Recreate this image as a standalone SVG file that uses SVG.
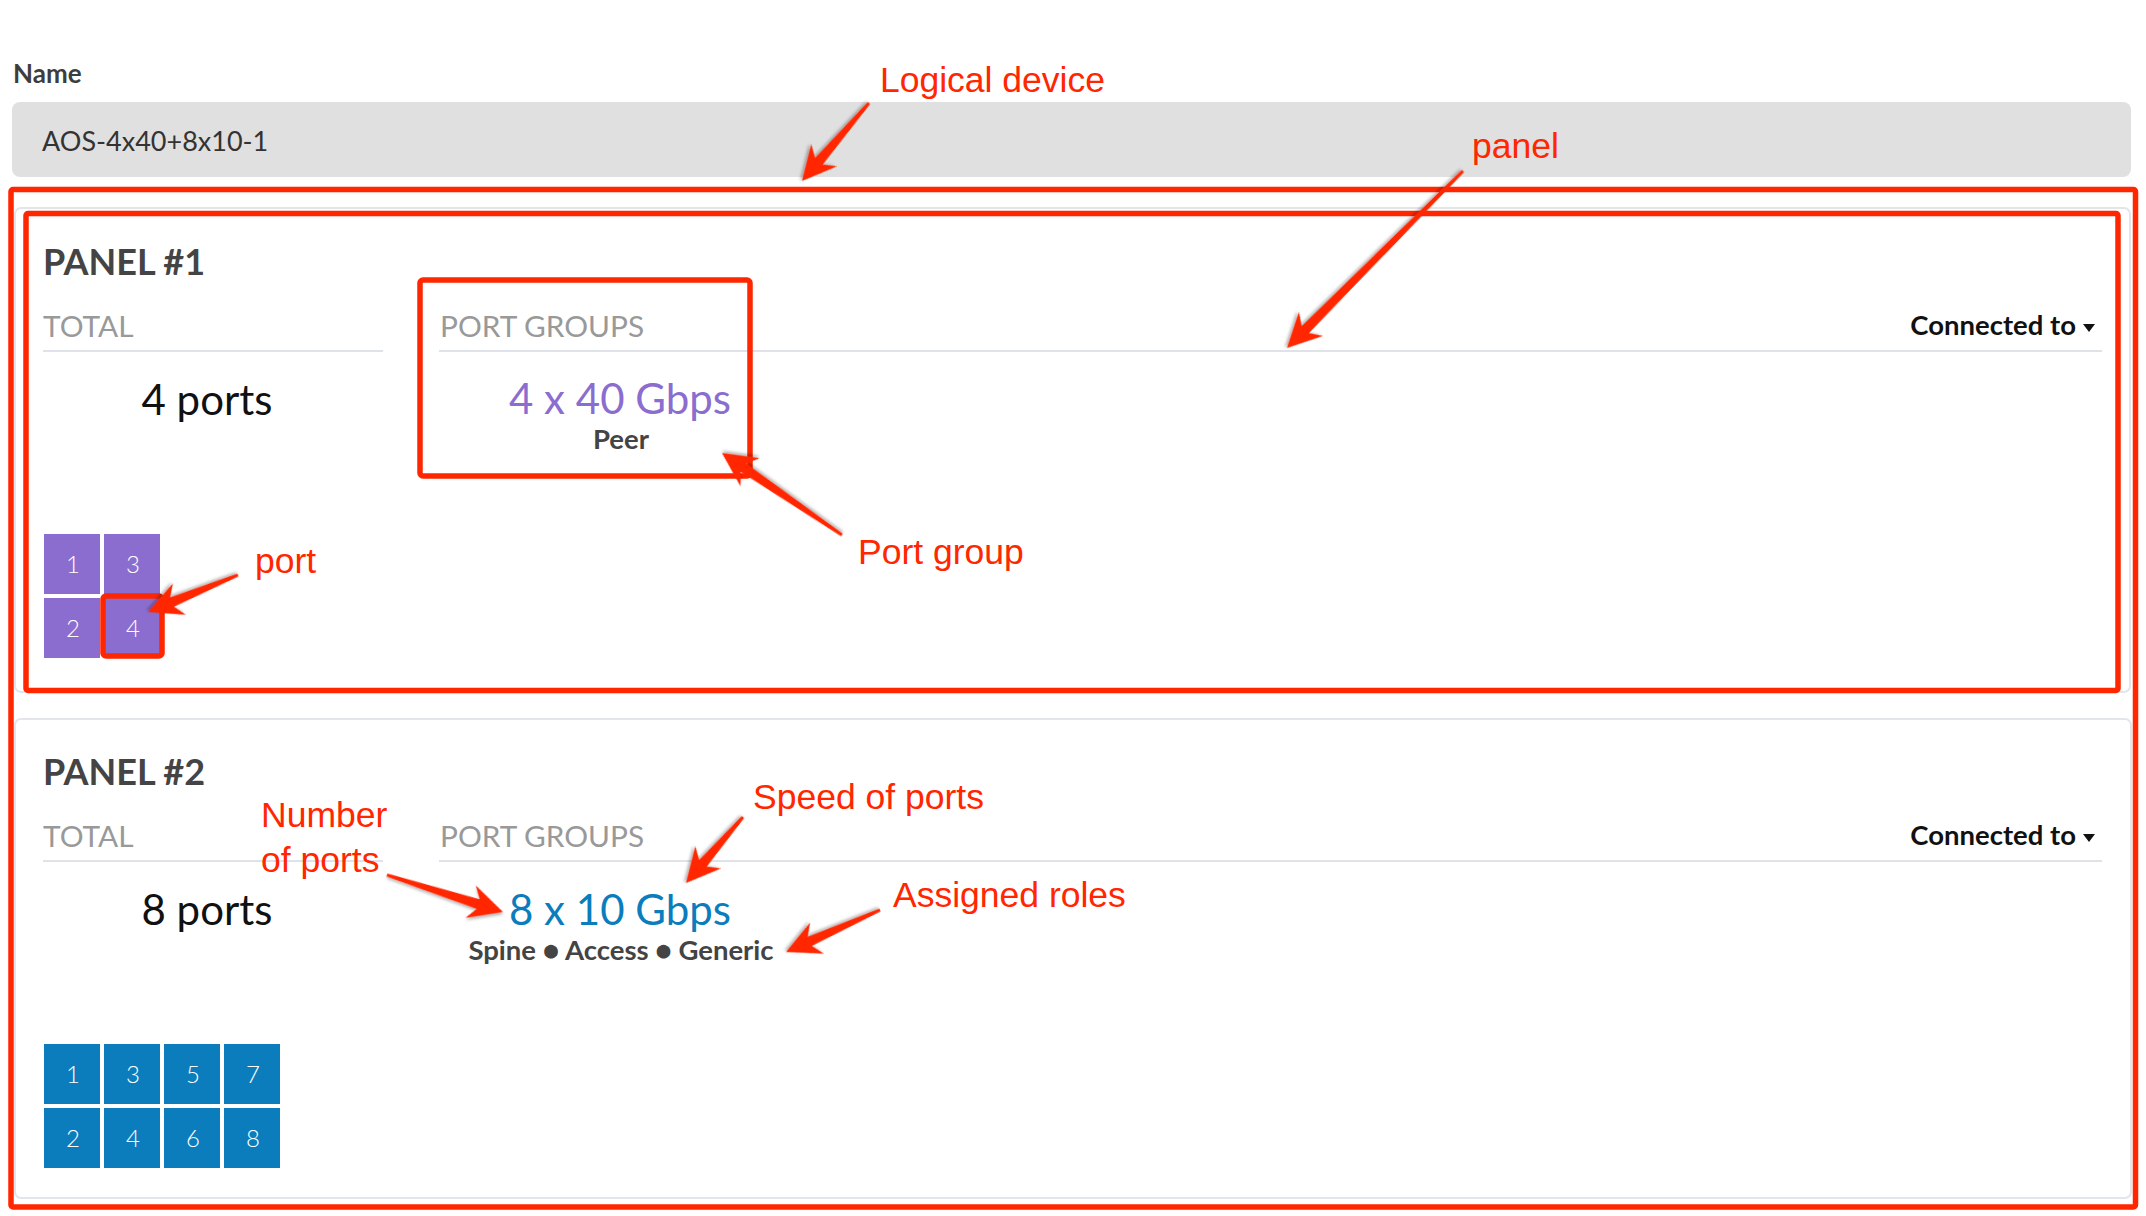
<svg xmlns="http://www.w3.org/2000/svg" width="2146" height="1216" viewBox="0 0 2146 1216">
<defs>
<style>
.ui{font-family:Lato,"Open Sans","Liberation Sans",sans-serif}
.lbl{font-family:Lato,"Liberation Sans",sans-serif;font-weight:700;fill:#3d3d3d}
.title{font-family:Lato,"Liberation Sans",sans-serif;font-weight:700;font-size:36px;fill:#444}
.hdr{font-family:Lato,"Liberation Sans",sans-serif;font-size:29.8px;fill:#999}
.rule{stroke:#dfe2e8;stroke-width:2}
.big{font-family:Lato,"Liberation Sans",sans-serif;font-size:42px}
.sub{font-family:Lato,"Liberation Sans",sans-serif;font-weight:700;font-size:27.5px;fill:#444}
.conn{font-family:Lato,"Liberation Sans",sans-serif;font-weight:700;font-size:27.5px;fill:#111}
.card{fill:#fff;stroke:#e2e5ea;stroke-width:2}
.red{fill:none;stroke:#ff2600;stroke-width:5.5}
.note{font-family:"Liberation Sans",Arial,sans-serif;font-size:35.5px;fill:#ff2600}
.pp{fill:#8b6dcf}
.pb{fill:#0b7dbd}
.pn{font-family:Lato,"Liberation Sans",sans-serif;font-weight:300;font-size:24px;fill:#fff;text-anchor:middle}
.arrow{fill:#ff2600;filter:url(#sh)}
</style>
<filter id="sh" x="-30%" y="-30%" width="160%" height="160%">
<feDropShadow dx="1" dy="2" stdDeviation="1.5" flood-color="#000" flood-opacity="0.3"/>
</filter>
</defs>
<rect width="2146" height="1216" fill="#fff"/>

<g id="name-field">
<text x="13" y="83" class="lbl" font-size="26">Name</text>
<rect x="12" y="102" width="2119" height="75" rx="8" fill="#e0e0e0"/>
<text x="42" y="151" class="ui" font-size="27" fill="#333">AOS-4x40+8x10-1</text>
</g>

<g id="panel-1">
<rect class="card" x="15" y="208" width="2115" height="484" rx="6"/>
<text x="43" y="275" class="title">PANEL #1</text>
<text x="43" y="337" class="hdr">TOTAL</text>
<line class="rule" x1="43" y1="351" x2="383" y2="351"/>
<text x="440" y="337" class="hdr">PORT GROUPS</text>
<line class="rule" x1="439" y1="351" x2="2102" y2="351"/>
<text x="2076" y="335" class="conn" text-anchor="end">Connected to</text>
<polygon points="2083,324 2095,324 2089,332" fill="#111"/>
<text x="207" y="415" class="big" text-anchor="middle" fill="#111">4 ports</text>
<text x="620" y="414" class="big" text-anchor="middle" fill="#8b6dcf">4 x 40 Gbps</text>
<text x="621" y="449" class="sub" text-anchor="middle">Peer</text>
<g id="panel-1-ports">
<rect class="pp" x="44" y="534" width="56" height="60"/>
<rect class="pp" x="44" y="598" width="56" height="60"/>
<rect class="pp" x="104" y="534" width="56" height="60"/>
<rect class="pp" x="104" y="598" width="56" height="60"/>
<text class="pn" x="73" y="573">1</text>
<text class="pn" x="73" y="637">2</text>
<text class="pn" x="133" y="573">3</text>
<text class="pn" x="133" y="637">4</text>
</g>
</g>

<g id="panel-2">
<rect class="card" x="15" y="719" width="2116" height="479" rx="6"/>
<text x="43" y="785" class="title">PANEL #2</text>
<text x="43" y="847" class="hdr">TOTAL</text>
<line class="rule" x1="43" y1="861" x2="383" y2="861"/>
<text x="440" y="847" class="hdr">PORT GROUPS</text>
<line class="rule" x1="439" y1="861" x2="2102" y2="861"/>
<text x="2076" y="845" class="conn" text-anchor="end">Connected to</text>
<polygon points="2083,834 2095,834 2089,842" fill="#111"/>
<text x="207" y="925" class="big" text-anchor="middle" fill="#111">8 ports</text>
<text x="620" y="925" class="big" text-anchor="middle" fill="#0b7dbd">8 x 10 Gbps</text>
<text x="621" y="960" class="sub" text-anchor="middle">Spine ● Access ● Generic</text>
<g id="panel-2-ports">
<rect class="pb" x="44" y="1044" width="56" height="60"/>
<rect class="pb" x="44" y="1108" width="56" height="60"/>
<rect class="pb" x="104" y="1044" width="56" height="60"/>
<rect class="pb" x="104" y="1108" width="56" height="60"/>
<rect class="pb" x="164" y="1044" width="56" height="60"/>
<rect class="pb" x="164" y="1108" width="56" height="60"/>
<rect class="pb" x="224" y="1044" width="56" height="60"/>
<rect class="pb" x="224" y="1108" width="56" height="60"/>
<text class="pn" x="73" y="1083">1</text>
<text class="pn" x="73" y="1147">2</text>
<text class="pn" x="133" y="1083">3</text>
<text class="pn" x="133" y="1147">4</text>
<text class="pn" x="193" y="1083">5</text>
<text class="pn" x="193" y="1147">6</text>
<text class="pn" x="253" y="1083">7</text>
<text class="pn" x="253" y="1147">8</text>
</g>
</g>

<g id="highlights">
<rect id="logical-device-box" class="red" x="11" y="189.5" width="2124.5" height="1017.5" rx="2"/>
<rect id="panel-box" class="red" x="26" y="213.5" width="2092" height="477" rx="2"/>
<rect id="port-group-box" class="red" x="420" y="280" width="330" height="196" rx="3"/>
<rect id="port-box" class="red" x="103" y="596" width="59" height="60" rx="3" stroke-width="6"/>
</g>

<g id="annotations">
<text id="lbl-logical-device" class="note" x="880" y="92">Logical device</text>
<text id="lbl-panel" class="note" x="1472" y="158">panel</text>
<text id="lbl-port-group" class="note" x="858" y="564">Port group</text>
<text id="lbl-port" class="note" x="255" y="573">port</text>
<text id="lbl-number" class="note" x="261" y="827">Number</text>
<text id="lbl-of-ports" class="note" x="261" y="872">of ports</text>
<text id="lbl-speed" class="note" x="753" y="809">Speed of ports</text>
<text id="lbl-roles" class="note" x="893" y="907">Assigned roles</text>
</g>

<g id="connectors">
<path class="arrow" transform="translate(802,181) rotate(130.66)" d="M0,0 L-34,-17 L-26,-5 L-102.8,-1.5 L-102.8,1.5 L-26,5 L-34,17 Z"/>
<path class="arrow" transform="translate(1287,348) rotate(134.84)" d="M0,0 L-34,-17 L-26,-5 L-249.6,-1.5 L-249.6,1.5 L-26,5 L-34,17 Z"/>
<path class="arrow" transform="translate(722,453) rotate(-145.65)" d="M0,0 L-34,-17 L-26,-5 L-145.3,-1.5 L-145.3,1.5 L-26,5 L-34,17 Z"/>
<path class="arrow" transform="translate(148,612) rotate(157.65)" d="M0,0 L-34,-17 L-26,-5 L-97.3,-1.5 L-97.3,1.5 L-26,5 L-34,17 Z"/>
<path class="arrow" transform="translate(503,912) rotate(17.69)" d="M0,0 L-34,-17 L-26,-5 L-121.8,-1.5 L-121.8,1.5 L-26,5 L-34,17 Z"/>
<path class="arrow" transform="translate(686,883) rotate(130.82)" d="M0,0 L-34,-17 L-26,-5 L-87.2,-1.5 L-87.2,1.5 L-26,5 L-34,17 Z"/>
<path class="arrow" transform="translate(786,952) rotate(155.93)" d="M0,0 L-34,-17 L-26,-5 L-103,-1.5 L-103,1.5 L-26,5 L-34,17 Z"/>
</g>
</svg>
